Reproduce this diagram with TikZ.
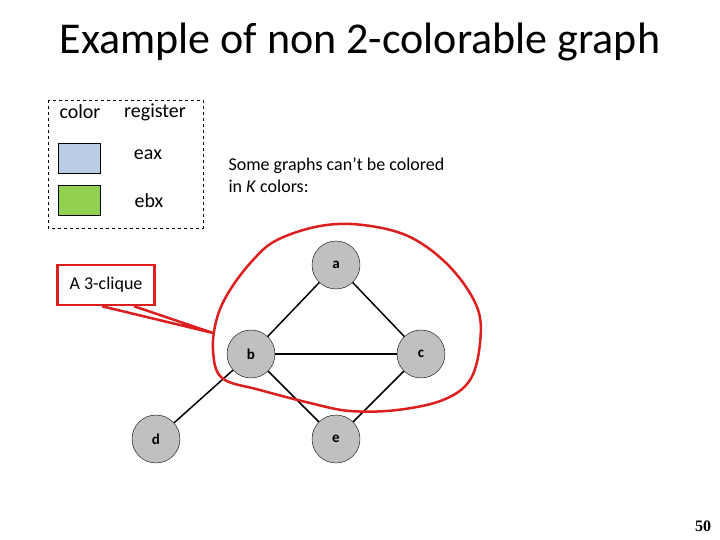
\documentclass[tikz,border=0pt]{standalone}
\usepackage{fontspec}
\setmainfont{Carlito}
\newfontfamily\pagenofont{Liberation Serif}
\usetikzlibrary{positioning}

\definecolor{regblue}{RGB}{185,205,229}
\definecolor{reggreen}{RGB}{146,208,80}
\definecolor{vertexgray}{RGB}{192,192,192}
\definecolor{markred}{RGB}{220,30,30}

\begin{document}
\begin{tikzpicture}[
  x=1pt,y=-1pt,
  vertex/.style={circle,draw,thin,fill=vertexgray,minimum size=48pt,inner sep=0pt,font=\fontsize{15}{18}\selectfont\bfseries},
  swatch/.style={draw,thin,minimum width=42pt,minimum height=30pt,inner sep=0pt},
  legendtext/.style={font=\fontsize{20}{24}\selectfont},
  edge/.style={line width=1.5pt},
  callout/.style={draw=markred,line width=2.5pt,fill=white,minimum width=97pt,minimum height=40pt,font=\fontsize{18}{21}\selectfont}
]
  \useasboundingbox (0,0) rectangle (720,540);

  \node (title) at (360,42) {\fontsize{44}{50}\selectfont Example of non 2-colorable graph};

  % legend
  \draw[dashed,thin] (48,100) rectangle (203,228);
  \node[legendtext] (color-head) at (80,112) {color};
  \node[legendtext] (register-head) at (155,112) {register};
  \node[swatch,fill=regblue] (eax-swatch) at (79,158) {};
  \node[swatch,fill=reggreen] (ebx-swatch) at (79,200) {};
  \node[legendtext] (eax) at (148,155) {eax};
  \node[legendtext] (ebx) at (149,201) {ebx};

  \node[align=left,anchor=west,font=\fontsize{18}{22}\selectfont] (remark) at (225,175)
    {Some graphs can't be colored\\in \textit{K} colors:};

  % graph
  \node[vertex] (a) at (336,265) {a};
  \node[vertex] (b) at (251,354) {b};
  \node[vertex] (c) at (421,354) {c};
  \node[vertex] (d) at (156,439) {d};
  \node[vertex] (e) at (336,439) {e};
  \draw[edge] (a) -- (b);
  \draw[edge] (a) -- (c);
  \draw[edge] (b) -- (c);
  \draw[edge] (b) -- (d);
  \draw[edge] (b) -- (e);
  \draw[edge] (c) -- (e);

  % hand drawn loop round the clique
  \draw[markred,line width=2.5pt,line join=round] plot[smooth cycle,tension=0.6] coordinates {
    (213,350) (217,318) (230,290) (253,260) (277,240) (320,226) (363,225)
    (410,237) (450,267) (477,307) (480,343) (470,380) (443,400) (397,410)
    (350,411) (310,403) (260,390) (222,378)};

  % callout
  \node[callout] (clique-label) at (106,285) {A 3-clique};
  \coordinate (clique-tip) at (213,333);
  \draw[markred,line width=2.5pt,fill=white,line join=round]
    ([xshift=-4pt]clique-label.south) -- (clique-tip) -- ([xshift=28pt]clique-label.south);

  \node[font=\fontsize{16}{18}\selectfont\pagenofont\bfseries] (page-no) at (703,526) {50};
\end{tikzpicture}
\end{document}
